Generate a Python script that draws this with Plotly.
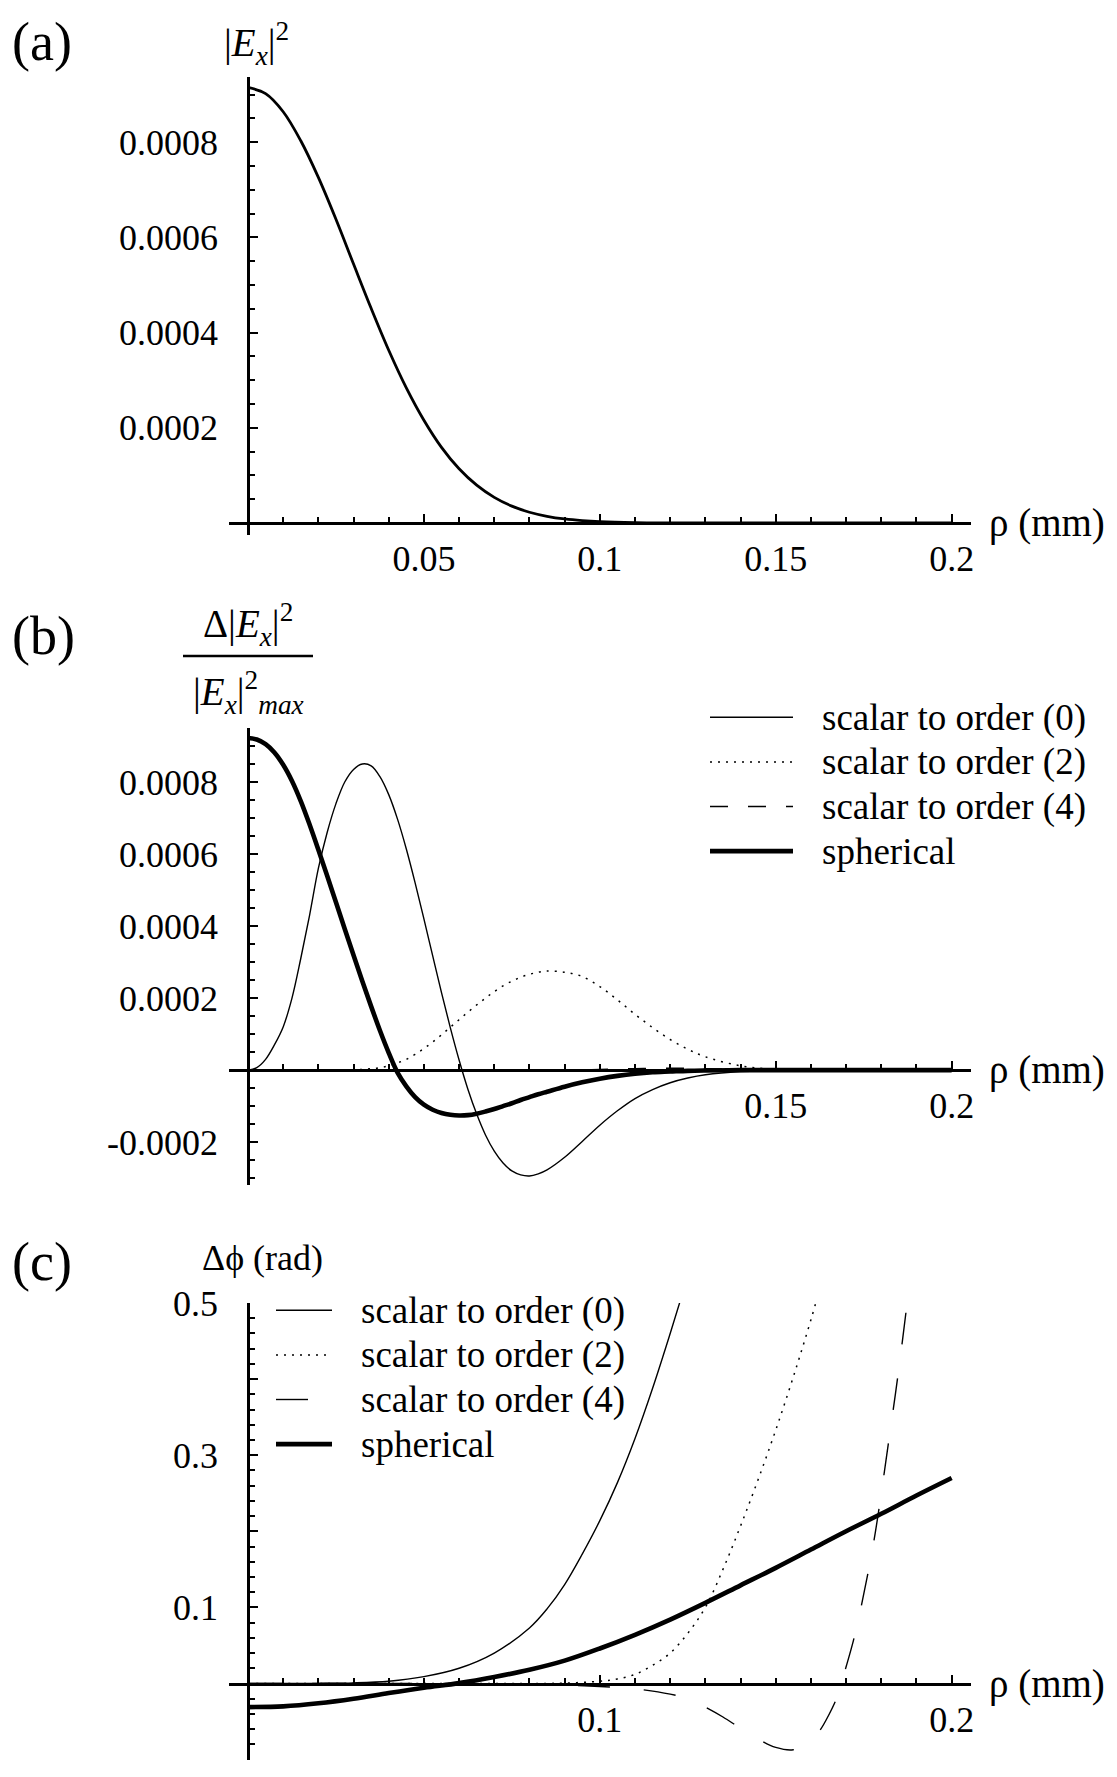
import numpy as np
import plotly.graph_objects as go

# ---------------- data ----------------
# panel (a): |E_x|^2 versus rho (mm)
rho_a = [0.000, 0.005, 0.010, 0.015, 0.020, 0.025, 0.030, 0.035, 0.040, 0.045,
         0.050, 0.055, 0.060, 0.065, 0.070, 0.075, 0.080, 0.085, 0.090, 0.095,
         0.100, 0.110, 0.120, 0.140, 0.170, 0.200]
ex2_a = [0.000915, 0.000902, 0.000864, 0.000803, 0.000726, 0.000638, 0.000544,
         0.000451, 0.000363, 0.000284, 0.000216, 0.000159, 0.000114, 0.0000795,
         0.0000539, 0.0000354, 0.0000226, 0.0000141, 0.0000085, 0.000005,
         0.0000028, 0.0000008, 0.0000002, 0.0, 0.0, 0.0]

# panel (b): relative intensity difference
rho_b = [0.0, 0.0025, 0.005, 0.0075, 0.01, 0.0125, 0.015, 0.0175, 0.02, 0.0225,
         0.025, 0.0275, 0.03, 0.0325, 0.035, 0.0375, 0.04, 0.0425, 0.045, 0.0475,
         0.05, 0.0525, 0.055, 0.0575, 0.06, 0.0625, 0.065, 0.0675, 0.07, 0.0725,
         0.075, 0.0775, 0.08, 0.0825, 0.085, 0.09, 0.095, 0.1, 0.105, 0.11,
         0.115, 0.12, 0.125, 0.13, 0.14, 0.15, 0.16, 0.18, 0.2]
order0_b = [0.0, 0.000007, 0.00003, 0.00007, 0.00012, 0.0002, 0.00031, 0.00043,
            0.00056, 0.00066, 0.00074, 0.0008, 0.000835, 0.00085, 0.000845,
            0.000815, 0.000765, 0.000697, 0.000614, 0.00052, 0.00042, 0.000317,
            0.000215, 0.000118, 0.000028, -0.000053, -0.000122, -0.00018,
            -0.000225, -0.000258, -0.00028, -0.000291, -0.000294, -0.000288,
            -0.000277, -0.000242, -0.000198, -0.000153, -0.000113, -0.000079,
            -0.000054, -0.000035, -0.000022, -0.000013, -0.000004, -0.000001,
            0.0, 0.0, 0.0]
order2_b = [0.0, 0.0, 0.0, 0.0, 0.0, 0.0, 0.0, 0.0, 0.0, 0.0, 0.0, 0.0000005,
            0.000001, 0.000002, 0.000004, 0.000007, 0.000012, 0.00002, 0.00003,
            0.000044, 0.00006, 0.000078, 0.000098, 0.000119, 0.00014, 0.000161,
            0.000181, 0.0002, 0.000218, 0.000234, 0.000247, 0.000258, 0.000266,
            0.000272, 0.000275, 0.000272, 0.00026, 0.000232, 0.000195, 0.000155,
            0.000118, 0.000085, 0.000058, 0.000037, 0.000012, 0.000002, 0.0,
            0.0, 0.0]
order4_b = [0.0, 0.0, 0.0, 0.0, 0.0, 0.0, 0.0, 0.0, 0.0, 0.0, 0.0, 0.0, 0.0,
            0.0, 0.0, 0.0, 0.0, 0.0, 0.0, 0.0, 0.0, 0.0, 0.0, 0.0, 0.0, 0.0,
            0.0, 0.0, 0.0, 0.0, 0.0, 0.0, 0.0, 0.0, 0.0, 0.000001, 0.000001,
            0.000002, 0.000003, 0.000004, 0.000005, 0.000005, 0.000005,
            0.000004, 0.000002, 0.000001, 0.0, 0.0, 0.0]
spherical_b = [0.000922, 0.000918, 0.000905, 0.000882, 0.000848, 0.000803,
               0.000747, 0.000682, 0.000612, 0.00054, 0.000466, 0.000392,
               0.000319, 0.000247, 0.000177, 0.00011, 0.000048, -0.000007,
               -0.000045, -0.000075, -0.000096, -0.00011, -0.000119, -0.000124,
               -0.000126, -0.000125, -0.000121, -0.000115, -0.000108, -0.0001,
               -0.000092, -0.000083, -0.000075, -0.000067, -0.00006, -0.000046,
               -0.000034, -0.000024, -0.000016, -0.00001, -0.000006, -0.000004,
               -0.000002, -0.000001, 0.0, 0.0, 0.0, 0.0, 0.0]

# panel (c): phase difference (rad)
rho_c_order0 = [0.0, 0.01, 0.02, 0.03, 0.04, 0.05, 0.06, 0.07, 0.08, 0.085, 0.09,
                0.095, 0.1, 0.105, 0.11, 0.115, 0.12, 0.125]
phase_c_order0 = [0.0, 0.0, 0.0002, 0.0008, 0.003, 0.009, 0.02, 0.04, 0.073,
                  0.098, 0.13, 0.17, 0.214, 0.264, 0.322, 0.388, 0.46, 0.535]
rho_c_order2 = [0.0, 0.05, 0.08, 0.09, 0.1, 0.105, 0.11, 0.115, 0.12, 0.125,
                0.13, 0.135, 0.14, 0.145, 0.15, 0.155, 0.16, 0.165]
phase_c_order2 = [0.0, 0.0, 0.0, 0.0005, 0.003, 0.006, 0.012, 0.024, 0.04,
                  0.066, 0.1, 0.15, 0.207, 0.268, 0.333, 0.403, 0.478, 0.56]
rho_c_order4 = [0.0, 0.05, 0.08, 0.09, 0.1, 0.11, 0.12, 0.125, 0.13, 0.135,
                0.14, 0.145, 0.15, 0.155, 0.16, 0.1625, 0.165, 0.1675, 0.17,
                0.172, 0.174, 0.176, 0.178, 0.18, 0.182, 0.184, 0.186, 0.188,
                0.19]
phase_c_order4 = [0.0, 0.0, -0.001, -0.002, -0.004, -0.007, -0.014, -0.02,
                  -0.031, -0.044, -0.059, -0.073, -0.084, -0.087, -0.076,
                  -0.062, -0.042, -0.017, 0.022, 0.055, 0.095, 0.14, 0.19,
                  0.25, 0.315, 0.38, 0.45, 0.525, 0.6]
rho_c_sph = [0.0, 0.01, 0.02, 0.03, 0.04, 0.05, 0.06, 0.07, 0.08, 0.09, 0.1,
             0.11, 0.12, 0.13, 0.14, 0.15, 0.16, 0.17, 0.18, 0.19, 0.2]
phase_c_sph = [-0.031, -0.030, -0.026, -0.020, -0.0125, -0.0055, 0.0005,
               0.0085, 0.018, 0.03, 0.046, 0.064, 0.084, 0.106, 0.129, 0.152,
               0.176, 0.2, 0.223, 0.247, 0.27]

series_names = ["scalar to order (0)", "scalar to order (2)",
                "scalar to order (4)", "spherical"]

# tick labels
xticks = [0.05, 0.1, 0.15, 0.2]
xtick_text_a = ["0.05", "0.1", "0.15", "0.2"]
xtick_text_b = ["", "", "0.15", "0.2"]
xtick_text_c = ["", "0.1", "", "0.2"]
yticks_a = [0.0002, 0.0004, 0.0006, 0.0008]
ytick_text_a = ["0.0002", "0.0004", "0.0006", "0.0008"]
yticks_b = [-0.0002, 0.0002, 0.0004, 0.0006, 0.0008]
ytick_text_b = ["-0.0002", "0.0002", "0.0004", "0.0006", "0.0008"]
yticks_c = [-0.1, 0.1, 0.2, 0.3, 0.4, 0.5]
ytick_text_c = ["-0.1", "0.1", " ", "0.3", " ", "0.5"]

# ---------------- layout geometry ----------------
W, H = 1117, 1777
FONT = "Liberation Serif"
X_RANGE = [-0.0054, 0.2055]
X_DOM = [229 / W, 971 / W]


def ydom(top_px, bot_px):
    return [(H - bot_px) / H, (H - top_px) / H]


def zero_pos(rng, dom):
    return dom[0] + (0 - rng[0]) / (rng[1] - rng[0]) * (dom[1] - dom[0])


YR = {"a": [-0.0000252, 0.000937], "b": [-0.000319, 0.00095], "c": [-0.1, 0.5]}
YD = {"a": ydom(77, 535), "b": ydom(728, 1185), "c": ydom(1303, 1759.6)}
ypos_axis = zero_pos(X_RANGE, X_DOM)

thin, thick = 1.4, 4.6
dots = "2px,6px"
GAP = "\u00a0\u00a0\u00a0"


def legend_label(name):
    return GAP + '<span style="font-size:37px">' + name + "</span>"


fig = go.Figure()
# (a)
fig.add_trace(go.Scatter(x=rho_a, y=ex2_a, mode="lines", showlegend=False,
                         line=dict(color="black", width=2.8, shape="spline"),
                         xaxis="x", yaxis="y"))
# (b)
styles_b = [dict(width=thin, dash="solid"), dict(width=1.5, dash=dots),
            dict(width=thin, dash="18px,20px"), dict(width=thick, dash="solid")]
for name, ys, st in zip(series_names, [order0_b, order2_b, order4_b, spherical_b], styles_b):
    fig.add_trace(go.Scatter(x=rho_b, y=ys, mode="lines", name=legend_label(name),
                             legend="legend",
                             line=dict(color="black", shape="spline", **st),
                             xaxis="x2", yaxis="y2"))
# (c)
styles_c = [dict(width=thin, dash="solid"), dict(width=1.5, dash=dots),
            dict(width=thin, dash="32px,34px"), dict(width=thick, dash="solid")]
xs_c = [rho_c_order0, rho_c_order2, rho_c_order4, rho_c_sph]
ys_c = [phase_c_order0, phase_c_order2, phase_c_order4, phase_c_sph]
for name, xs, ys, st in zip(series_names, xs_c, ys_c, styles_c):
    fig.add_trace(go.Scatter(x=xs, y=ys, mode="lines", name=legend_label(name),
                             legend="legend2",
                             line=dict(color="black", shape="spline", **st),
                             xaxis="x3", yaxis="y3"))

tickfont = dict(family=FONT, size=36, color="black")
axis_common = dict(showline=True, linecolor="black", linewidth=2.6,
                   ticks="inside", tickcolor="black", tickwidth=2, ticklen=8,
                   showgrid=False, zeroline=False, tickfont=tickfont,
                   automargin=False, anchor="free", tickmode="array")

minor_x = dict(ticks="inside", ticklen=5, tickwidth=1.6, tickcolor="black",
               tickmode="array", tickvals=list(np.round(np.arange(0.01, 0.2001, 0.01), 4)),
               showgrid=False)


def minor_y(step, lo, hi):
    return dict(ticks="inside", ticklen=5, tickwidth=1.6, tickcolor="black",
                tickmode="array",
                tickvals=list(np.round(np.arange(lo, hi + step / 2, step), 6)),
                showgrid=False)


xtexts = {"a": xtick_text_a, "b": xtick_text_b, "c": xtick_text_c}
yvals = {"a": (yticks_a, ytick_text_a), "b": (yticks_b, ytick_text_b),
         "c": (yticks_c, ytick_text_c)}
yminor = {"a": minor_y(0.00005, 0.00005, 0.0009), "b": minor_y(0.00005, -0.0003, 0.0009),
          "c": minor_y(0.02, -0.1, 0.5)}

layout_axes = {}
for i, p in enumerate(["a", "b", "c"]):
    sfx = "" if i == 0 else str(i + 1)
    layout_axes["xaxis" + sfx] = dict(axis_common, range=X_RANGE, domain=X_DOM,
                                      position=zero_pos(YR[p], YD[p]),
                                      tickvals=xticks, ticktext=xtexts[p],
                                      minor=minor_x, ticklabelstandoff=3)
    layout_axes["yaxis" + sfx] = dict(axis_common, range=YR[p], domain=YD[p],
                                      position=ypos_axis,
                                      tickvals=yvals[p][0], ticktext=yvals[p][1],
                                      minor=yminor[p], ticklabelstandoff=22)

lab_font = dict(family=FONT, size=39, color="black")
panel_font = dict(family=FONT, size=54, color="black")
annotations = [
    dict(text="(a)", x=10 / W, y=(H - 42) / H, xref="paper", yref="paper",
         xanchor="left", yanchor="middle", showarrow=False, font=panel_font),
    dict(text="(b)", x=10 / W, y=(H - 636) / H, xref="paper", yref="paper",
         xanchor="left", yanchor="middle", showarrow=False, font=panel_font),
    dict(text="(c)", x=10 / W, y=(H - 1262) / H, xref="paper", yref="paper",
         xanchor="left", yanchor="middle", showarrow=False, font=panel_font),
    dict(text="|<i>E</i><sub><i>x</i></sub>|<sup>2</sup>", x=0, xref="x",
         y=(H - 44) / H, yref="paper", xanchor="center", yanchor="middle",
         xshift=8, showarrow=False, font=lab_font),
    dict(text="Δ|<i>E</i><sub><i>x</i></sub>|<sup>2</sup>", x=0, xref="x2",
         y=(H - 624) / H, yref="paper", xanchor="center", yanchor="middle",
         showarrow=False, font=lab_font),
    dict(text="|<i>E</i><sub><i>x</i></sub>|<sup>2</sup><sub><i>max</i></sub>",
         x=0, xref="x2", y=(H - 692) / H, yref="paper", xanchor="center",
         yanchor="middle", showarrow=False, font=lab_font),
    dict(text="Δϕ (rad)", x=0, xref="x3", y=(H - 1258) / H, yref="paper",
         xanchor="center", yanchor="middle", xshift=14, showarrow=False,
         font=dict(family=FONT, size=36, color="black")),
]
for ax in ["", "2", "3"]:
    annotations.append(dict(text="ρ (mm)", x=X_RANGE[1], xref="x" + ax, y=0,
                            yref="y" + ax, xanchor="left", yanchor="middle",
                            xshift=16, showarrow=False,
                            font=dict(family=FONT, size=39, color="black")))

legend_font = dict(family=FONT, size=32, color="black")
fig.update_layout(
    width=W, height=H, margin=dict(l=0, r=0, t=0, b=0),
    paper_bgcolor="white", plot_bgcolor="white",
    font=dict(family=FONT, color="black"),
    legend=dict(x=705 / W, y=(H - 690) / H, xanchor="left", yanchor="top",
                font=legend_font, bgcolor="rgba(0,0,0,0)", borderwidth=0,
                tracegroupgap=0, itemwidth=83),
    legend2=dict(x=271 / W, y=(H - 1283) / H, xanchor="left", yanchor="top",
                 font=legend_font, bgcolor="rgba(0,0,0,0)", borderwidth=0,
                 tracegroupgap=0, itemwidth=56),
    annotations=annotations,
    shapes=[dict(type="line", xref="paper", yref="paper", x0=183 / W, x1=313 / W,
                 y0=(H - 656) / H, y1=(H - 656) / H,
                 line=dict(color="black", width=2.5))],
    showlegend=True,
    **layout_axes,
)

fig.write_html("out.html")
